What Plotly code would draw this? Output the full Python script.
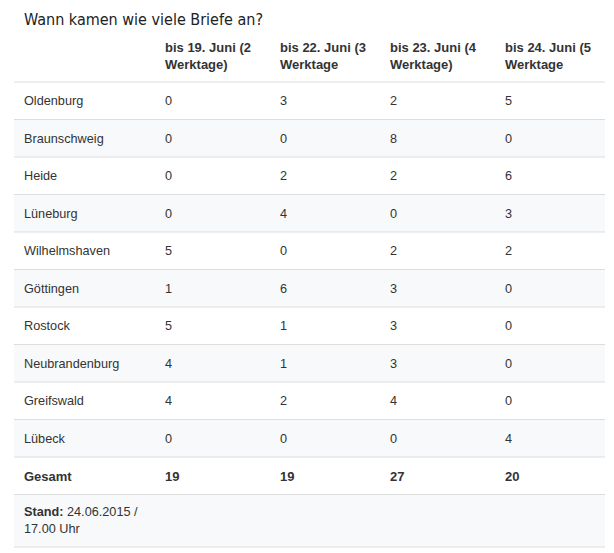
import plotly.graph_objects as go

title = "Wann kamen wie viele Briefe an?"
headers = ["bis 19. Juni (2<br>Werktage)", "bis 22. Juni (3<br>Werktage",
           "bis 23. Juni (4<br>Werktage)", "bis 24. Juni (5<br>Werktage"]
cities = ["Oldenburg", "Braunschweig", "Heide", "Lüneburg", "Wilhelmshaven",
          "Göttingen", "Rostock", "Neubrandenburg", "Greifswald", "Lübeck"]
bis_19 = [0, 0, 0, 0, 5, 1, 5, 4, 4, 0]
bis_22 = [3, 0, 2, 4, 0, 6, 1, 1, 2, 0]
bis_23 = [2, 8, 2, 0, 2, 3, 3, 3, 4, 0]
bis_24 = [5, 0, 6, 3, 2, 0, 0, 0, 0, 4]
total_label = "Gesamt"
totals = [19, 19, 27, 20]
footer = "<b>Stand:</b> 24.06.2015 /<br>17.00 Uhr"

W, H = 614, 553
BODY = 8  # default page margin of the html body
col_edges = [14, 155, 270, 380, 495, 605]
pad = 8
header_top, header_bot = 35, 82
row_h = 37.5
foot_h = 52.5
TXT = "#333333"
LINE = "#dddddd"
GRAY = "#f8f9fa"
FONT = "Liberation Sans, Arial, sans-serif"

series = [bis_19, bis_22, bis_23, bis_24]
rows = [[c] + [s[i] for s in series] for i, c in enumerate(cities)]

fig = go.Figure()
fig.add_trace(go.Scatter(x=[BODY], y=[BODY], mode="markers", marker=dict(opacity=0),
                         hoverinfo="skip", showlegend=False))

shapes = []
ann = []

ann.append(dict(x=col_edges[0] + pad, y=19, text=title, showarrow=False,
                xanchor="left", yanchor="middle",
                font=dict(family="DejaVu Sans Condensed, DejaVu Sans, sans-serif",
                          size=16, color="#222222")))

# header
for j, h in enumerate(headers):
    ann.append(dict(x=col_edges[j + 1] + pad, y=56,
                    text="<b>" + h + "</b>", showarrow=False, align="left",
                    xanchor="left", yanchor="middle",
                    font=dict(family=FONT, size=13, color=TXT)))

shapes.append(dict(type="line", x0=col_edges[0], x1=col_edges[-1], y0=header_bot,
                   y1=header_bot, line=dict(color=LINE, width=1)))

all_rows = rows + [[total_label] + totals]
y = header_bot
for i, r in enumerate(all_rows):
    y0, y1 = y, y + row_h
    if i % 2 == 1:
        shapes.append(dict(type="rect", x0=col_edges[0], x1=col_edges[-1], y0=y0, y1=y1,
                           fillcolor=GRAY, line=dict(width=0), layer="below"))
    shapes.append(dict(type="line", x0=col_edges[0], x1=col_edges[-1], y0=y1, y1=y1,
                       line=dict(color=LINE, width=1)))
    bold = (i == len(all_rows) - 1)
    for j, v in enumerate(r):
        t = str(v)
        if bold:
            t = "<b>" + t + "</b>"
        ann.append(dict(x=col_edges[j] + pad, y=(y0 + y1) / 2 + 0.5, text=t, showarrow=False,
                        xanchor="left", yanchor="middle",
                        font=dict(family=FONT, size=13 if bold else 12.7, color=TXT)))
    y = y1

# footer
y0, y1 = y, y + foot_h
shapes.append(dict(type="rect", x0=col_edges[0], x1=col_edges[-1], y0=y0, y1=y1,
                   fillcolor=GRAY, line=dict(width=0), layer="below"))
shapes.append(dict(type="line", x0=col_edges[0], x1=col_edges[-1], y0=y1, y1=y1,
                   line=dict(color=LINE, width=1)))
ann.append(dict(x=col_edges[0] + pad, y=(y0 + y1) / 2, text=footer, showarrow=False,
                align="left", xanchor="left", yanchor="middle",
                font=dict(family=FONT, size=12.7, color=TXT)))

for a in ann:
    a["xref"] = "x"
    a["yref"] = "y"
for s in shapes:
    s["xref"] = "x"
    s["yref"] = "y"

fig.update_layout(
    width=W - BODY, height=H - BODY, autosize=False,
    margin=dict(l=0, r=0, t=0, b=0, pad=0),
    paper_bgcolor="white", plot_bgcolor="white",
    xaxis=dict(range=[BODY, W], visible=False, fixedrange=True),
    yaxis=dict(range=[H, BODY], visible=False, fixedrange=True),
    shapes=shapes, annotations=ann, showlegend=False,
)
fig.write_html("out.html", config={"displayModeBar": False})
